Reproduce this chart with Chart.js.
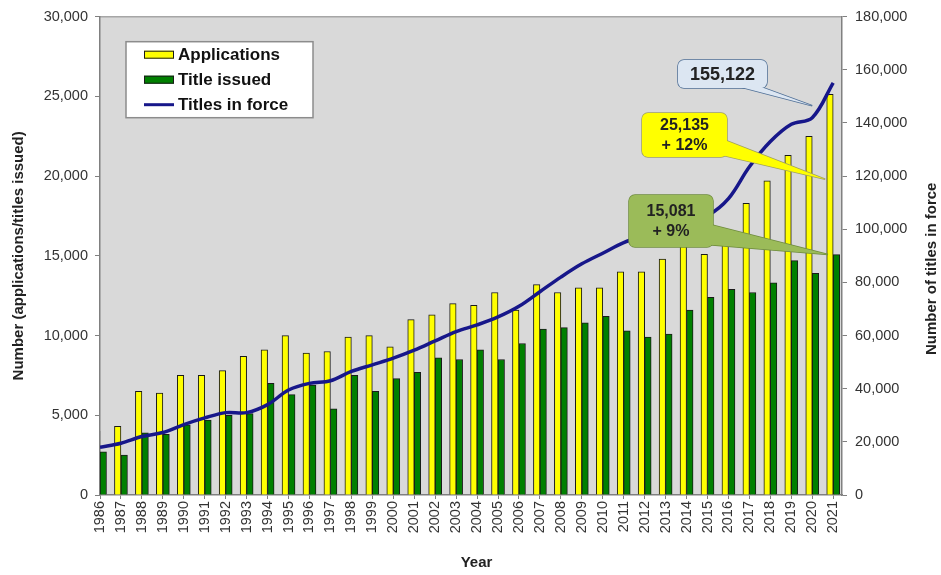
<!DOCTYPE html>
<html>
<head>
<meta charset="utf-8">
<title>Applications, titles issued and titles in force</title>
<script src="https://cdn.jsdelivr.net/npm/chart.js@4.4.1/dist/chart.umd.min.js"></script>
<style>
  html, body { margin: 0; padding: 0; background: #fff; }
  #wrap { width: 941px; height: 575px; }
</style>
</head>
<body>
<div id="wrap"><canvas id="chart" width="941" height="575"></canvas></div>
<script>
// values
const years = [1986, 1987, 1988, 1989, 1990, 1991, 1992, 1993, 1994, 1995, 1996, 1997,
  1998, 1999, 2000, 2001, 2002, 2003, 2004, 2005, 2006, 2007, 2008, 2009,
  2010, 2011, 2012, 2013, 2014, 2015, 2016, 2017, 2018, 2019, 2020, 2021]

const applications = [4000, 4300, 6500, 6400, 7500, 7500, 7800, 8700, 9100, 10000, 8900, 9000,
  9900, 10000, 9300, 11000, 11300, 12000, 11900, 12700, 11600, 13200, 12700, 13000,
  13000, 14000, 14000, 14800, 15600, 15100, 15900, 18300, 19700, 21300, 22500, 25135]

const titlesIssued = [2700, 2500, 3900, 3800, 4400, 4700, 5000, 5100, 7000, 6300, 6900, 5400,
  7500, 6500, 7300, 7700, 8600, 8500, 9100, 8500, 9500, 10400, 10500, 10800,
  11200, 10300, 9900, 10100, 11600, 12400, 12900, 12700, 13300, 14700, 13900, 15081]

const titlesInForce = [18000, 19500, 22000, 23500, 26500, 29000, 31000, 31000, 34000, 39500, 42000, 43000,
  46500, 49000, 51500, 54500, 58000, 61500, 64000, 67000, 71000, 76500, 82000, 87000,
  91000, 95000, 97500, 99500, 102000, 105000, 111500, 123500, 133000, 139500, 142000, 155122]

const leftTicks = [0, 5000, 10000, 15000, 20000, 25000, 30000]
const rightTicks = [0, 20000, 40000, 60000, 80000, 100000, 120000, 140000, 160000, 180000]

const COLORS = {
  yellow: '#ffff00',
  green: '#008000',
  navy: '#17178a',
  edge: '#1a1a1a',
  axis: '#808080',
  text: '#333333',
  plot: '#d9d9d9'
}

const FONT = '"Liberation Sans", Arial, sans-serif'
Chart.defaults.font.family = FONT

const last = years.length - 1
const fmt = (v) => v.toLocaleString('en-US')
const points = (arr) => years.map((yr, i) => ({ x: yr, y: arr[i] }))

// callouts: text, box (layout only) and the data point the wedge points at
const callouts = [
  {
    lines: [fmt(titlesInForce[last])], font: 'bold 18px ' + FONT,
    fill: '#dce6f2', stroke: '#4f6f96',
    box: { x: 678, y: 60, w: 89, h: 28 },
    base: [[729, 84], [753, 84]],
    tip: { x: years[last] - 1, y: 146500, axis: 'y1' }
  },
  {
    lines: [fmt(applications[last]), '+ 12%'], font: 'bold 16px ' + FONT,
    fill: '#ffff00', stroke: '#a0a060',
    box: { x: 642, y: 113, w: 85, h: 44 },
    base: [[722, 139], [717, 154]],
    tip: { x: years[last] - 0.38, y: 19800, axis: 'y' }
  },
  {
    lines: [fmt(titlesIssued[last]), '+ 9%'], font: 'bold 16px ' + FONT,
    fill: '#9bbb59', stroke: '#6e8b3d',
    box: { x: 629, y: 195, w: 84, h: 52 },
    base: [[708, 224], [701, 244]],
    tip: { x: years[last] - 0.25, y: titlesIssued[last], axis: 'y' }
  }
]

function drawCallout(chart, c) {
  const { ctx } = chart
  const tx = chart.scales.x.getPixelForValue(c.tip.x)
  const ty = chart.scales[c.tip.axis].getPixelForValue(c.tip.y)
  const wedge = () => {
    ctx.beginPath()
    ctx.moveTo(c.base[0][0], c.base[0][1])
    ctx.lineTo(tx, ty)
    ctx.lineTo(c.base[1][0], c.base[1][1])
    ctx.closePath()
  }
  const rect = () => {
    ctx.beginPath()
    ctx.roundRect(c.box.x, c.box.y, c.box.w, c.box.h, 6)
  }
  ctx.save()
  ctx.lineWidth = 1.5
  ctx.strokeStyle = c.stroke
  ctx.fillStyle = c.fill
  // strokes first, fills after, so the wedge joins the box without a seam
  wedge(); ctx.stroke()
  rect(); ctx.stroke()
  wedge(); ctx.fill()
  rect(); ctx.fill()

  ctx.fillStyle = '#222'
  ctx.font = c.font
  ctx.textAlign = 'center'
  ctx.textBaseline = 'middle'
  const cx = c.box.x + c.box.w / 2
  const lh = 20
  const y0 = c.box.y + c.box.h / 2 - (c.lines.length - 1) * lh / 2
  c.lines.forEach((t, i) => ctx.fillText(t, cx, y0 + i * lh + 1))
  ctx.restore()
}

function drawLegend(chart) {
  const { ctx } = chart
  const a = chart.chartArea
  const x = a.left + 26
  const y = a.top + 25
  ctx.save()
  ctx.fillStyle = '#fff'
  ctx.fillRect(x, y, 187, 76)
  ctx.strokeStyle = '#8c8c8c'
  ctx.lineWidth = 1.5
  ctx.strokeRect(x, y, 187, 76)

  ctx.font = 'bold 17px ' + FONT
  ctx.textBaseline = 'middle'
  chart.data.datasets.forEach((ds, i) => {
    const cy = y + 13 + i * 25
    if (ds.type === 'line') {
      ctx.strokeStyle = ds.borderColor
      ctx.lineWidth = 3
      ctx.beginPath()
      ctx.moveTo(x + 18, cy)
      ctx.lineTo(x + 48, cy)
      ctx.stroke()
    } else {
      ctx.fillStyle = ds.backgroundColor
      ctx.fillRect(x + 18, cy - 4, 30, 8)
      ctx.strokeStyle = ds.borderColor
      ctx.lineWidth = 1
      ctx.strokeRect(x + 18.5, cy - 3.5, 29, 7)
    }
    ctx.fillStyle = '#111'
    ctx.fillText(ds.label, x + 52, cy + 1)
  })
  ctx.restore()
}

function drawTitle(ctx, text, x, y, rotate) {
  ctx.save()
  ctx.translate(x, y)
  if (rotate) ctx.rotate(-Math.PI / 2)
  ctx.font = 'bold 15px ' + FONT
  ctx.fillStyle = '#222'
  ctx.textAlign = 'center'
  ctx.textBaseline = 'middle'
  ctx.fillText(text, 0, 0)
  ctx.restore()
}

const decor = {
  id: 'decor',
  beforeDraw(chart) {
    const { ctx, chartArea: a } = chart
    ctx.save()
    ctx.fillStyle = COLORS.plot
    ctx.fillRect(a.left, a.top, a.right - a.left, a.bottom - a.top)
    ctx.strokeStyle = '#a6a6a6'
    ctx.lineWidth = 1.5
    ctx.beginPath()
    ctx.moveTo(a.left, a.top)
    ctx.lineTo(a.right, a.top)
    ctx.stroke()
    ctx.restore()
  },
  afterDraw(chart) {
    const { ctx, chartArea: a } = chart
    drawLegend(chart)
    callouts.forEach((c) => drawCallout(chart, c))
    const midY = (a.top + a.bottom) / 2
    drawTitle(ctx, 'Number (applications/titles issued)', 18.5, midY, true)
    drawTitle(ctx, 'Number of titles in force', 931.5, midY + 13, true)
    drawTitle(ctx, 'Year', 476.5, 563, false)
  }
}

const tickFont = { size: 14.5 }

new Chart(document.getElementById('chart'), {
  type: 'bar',
  data: {
    datasets: [
      {
        label: 'Applications',
        data: points(applications),
        backgroundColor: COLORS.yellow,
        borderColor: COLORS.edge,
        borderWidth: 1,
        barThickness: 6.5,
        clip: 0,
        order: 1
      },
      {
        label: 'Title issued',
        data: points(titlesIssued),
        backgroundColor: COLORS.green,
        borderColor: COLORS.edge,
        borderWidth: 1,
        barThickness: 6.5,
        clip: 0,
        order: 1
      },
      {
        type: 'line',
        label: 'Titles in force',
        data: points(titlesInForce),
        yAxisID: 'y1',
        borderColor: COLORS.navy,
        borderWidth: 3.5,
        pointRadius: 0,
        tension: 0.35,
        fill: false,
        order: 0
      }
    ]
  },
  options: {
    responsive: false,
    animation: false,
    devicePixelRatio: 1,
    layout: { padding: { top: 16, left: 0, right: 0, bottom: 0 } },
    plugins: {
      legend: { display: false },
      tooltip: { enabled: false }
    },
    scales: {
      x: {
        type: 'linear',
        min: years[0],
        max: years[last] + 0.42,
        offset: false,
        afterBuildTicks: (s) => { s.ticks = years.map((v) => ({ value: v })) },
        afterFit: (s) => { s.height = 80 },
        ticks: {
          autoSkip: false,
          minRotation: 90,
          maxRotation: 90,
          padding: 2,
          color: COLORS.text,
          font: tickFont,
          callback: (v) => String(v)
        },
        grid: { drawOnChartArea: false, offset: false, tickLength: 4, color: COLORS.axis },
        border: { color: COLORS.axis, width: 1.5 }
      },
      y: {
        position: 'left',
        min: 0,
        max: 30000,
        afterBuildTicks: (s) => { s.ticks = leftTicks.map((v) => ({ value: v })) },
        afterFit: (s) => { s.width = 100 },
        ticks: { padding: 7, color: COLORS.text, font: tickFont, callback: (v) => fmt(v) },
        grid: { drawOnChartArea: false, tickLength: 5, color: COLORS.axis },
        border: { color: COLORS.axis, width: 1.5 }
      },
      y1: {
        position: 'right',
        min: 0,
        max: 180000,
        afterBuildTicks: (s) => { s.ticks = rightTicks.map((v) => ({ value: v })) },
        afterFit: (s) => { s.width = 99 },
        ticks: { padding: 8, color: COLORS.text, font: tickFont, callback: (v) => fmt(v) },
        grid: { drawOnChartArea: false, tickLength: 5, color: COLORS.axis },
        border: { color: COLORS.axis, width: 1.5 }
      }
    }
  },
  plugins: [decor]
})
</script>
</body>
</html>
